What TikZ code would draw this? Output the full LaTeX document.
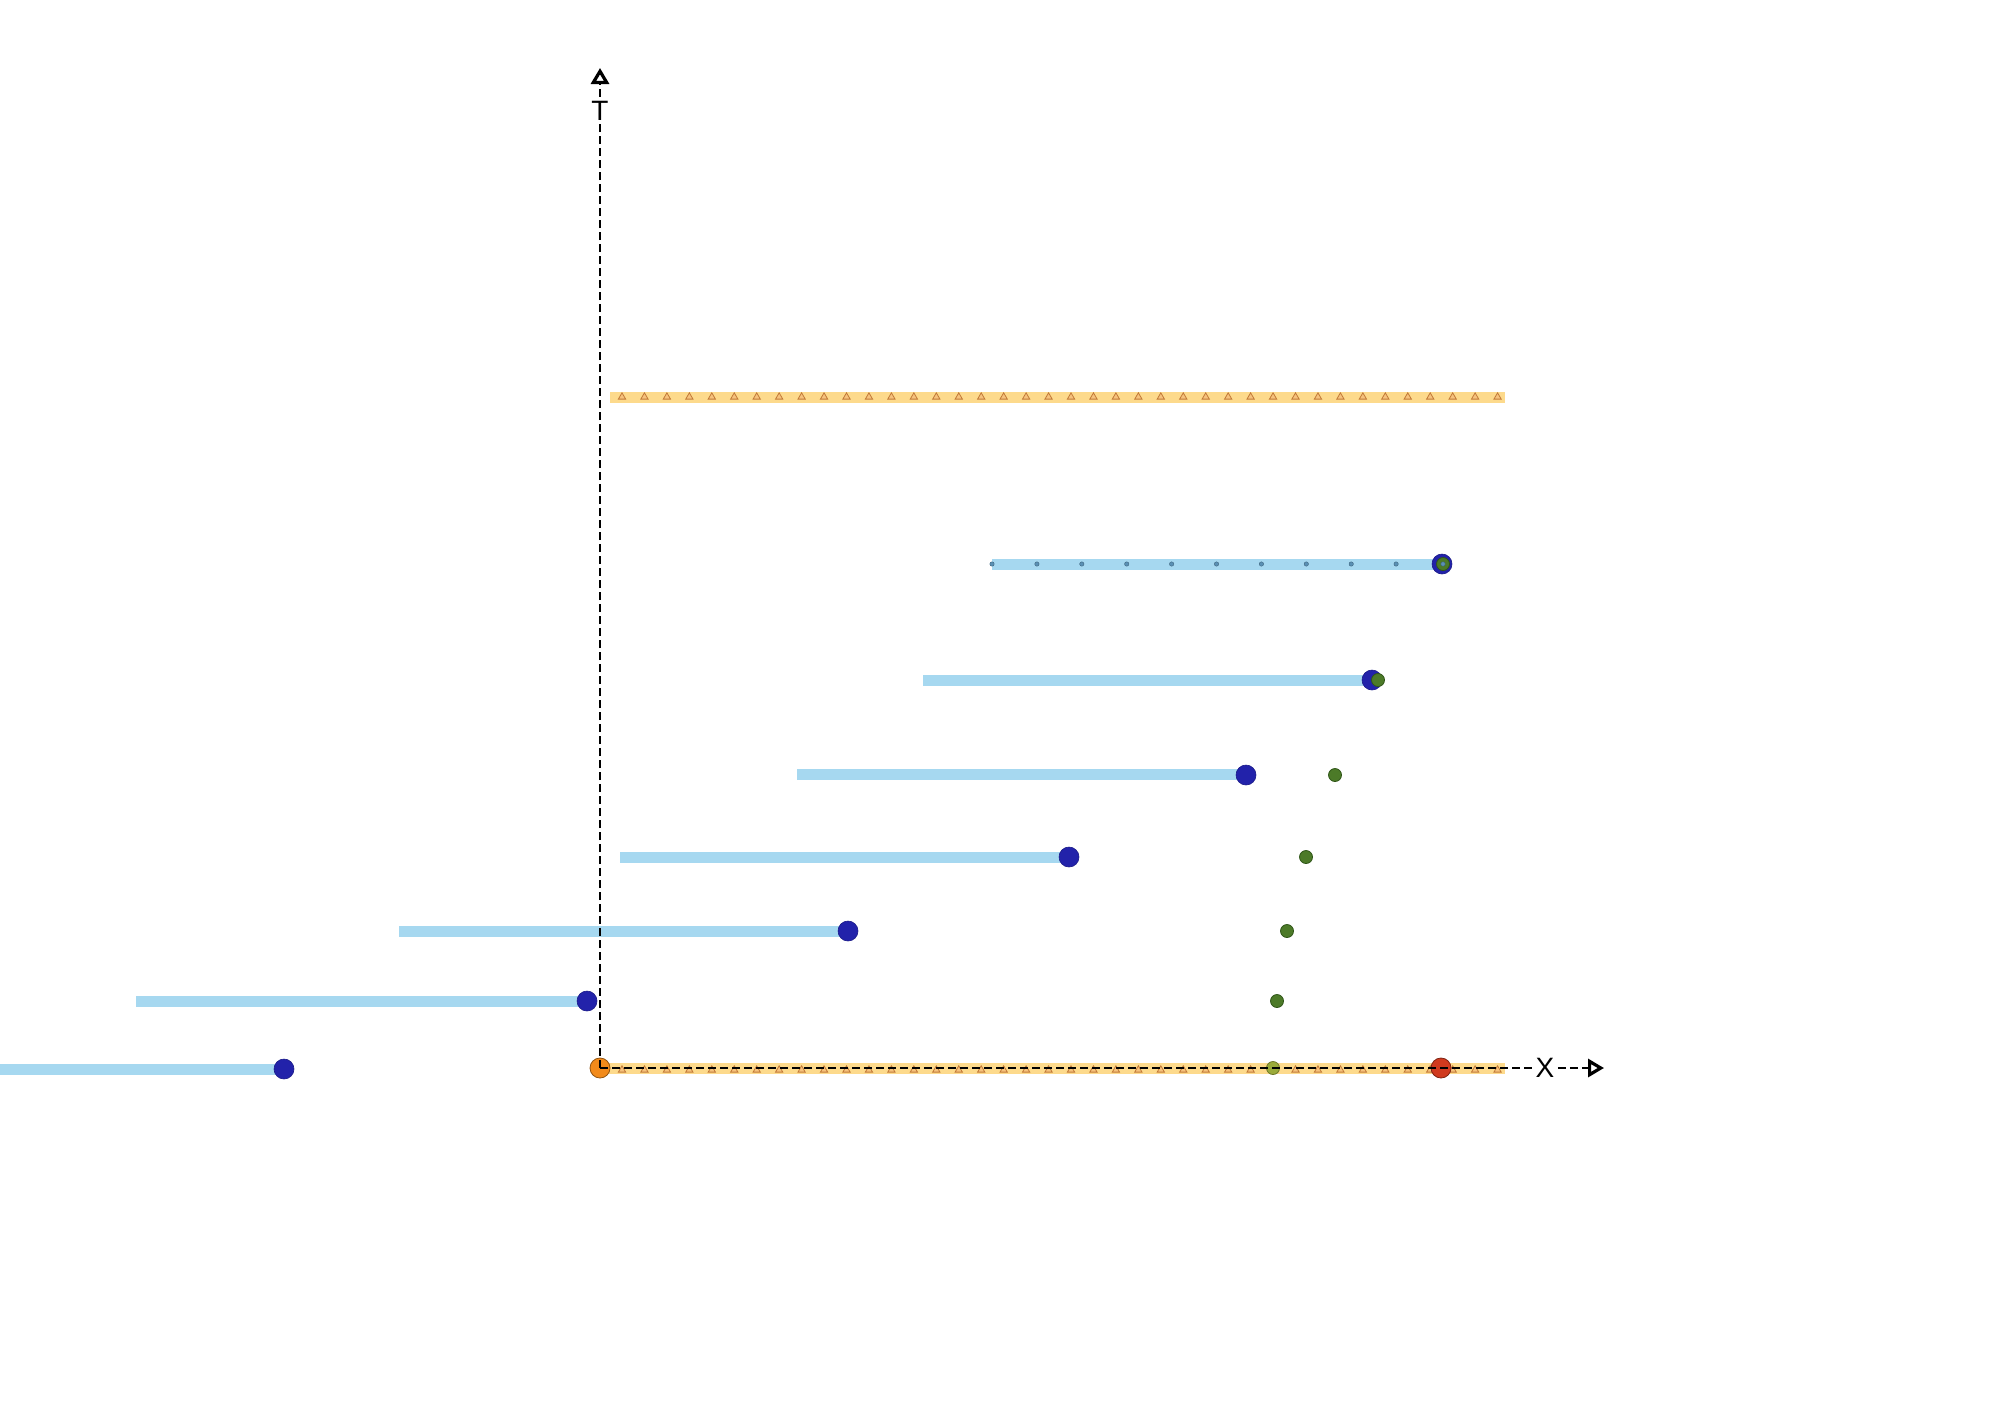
\documentclass[tikz,border=0pt]{standalone}
\usepackage{fontspec}
\setmainfont{Liberation Sans}
\usetikzlibrary{arrows.meta,shapes.geometric}
\definecolor{barblue}{HTML}{A6D8F0}
\definecolor{dotblue}{HTML}{2222AA}
\definecolor{dotgreen}{HTML}{4C7A28}
\definecolor{dotgreenedge}{HTML}{2F5518}
\definecolor{olive}{HTML}{9AAA3A}
\definecolor{bandorange}{HTML}{FDDA8C}
\definecolor{triedge}{HTML}{C27A38}
\definecolor{trifill}{HTML}{F6C27C}
\definecolor{origorange}{HTML}{F28A1A}
\definecolor{reddot}{HTML}{D03A1E}
\definecolor{smalldot}{HTML}{5A90B4}
\begin{document}
\begin{tikzpicture}[x=0.5pt,y=-0.5pt,
  bar/.style={line width=5.5pt,draw=barblue},
  band/.style={line width=5.5pt,draw=bandorange},
  bdot/.style={circle,fill=dotblue,draw=dotblue!80!black,line width=0.3pt,minimum size=10pt,inner sep=0pt},
  gdot/.style={circle,fill=dotgreen,draw=dotgreenedge,line width=0.4pt,minimum size=6.5pt,inner sep=0pt},
  sdot/.style={circle,fill=smalldot,draw=smalldot!70!black,line width=0.2pt,minimum size=2.2pt,inner sep=0pt},
  tri/.style={regular polygon,regular polygon sides=3,draw=triedge,fill=trifill,line width=0.4pt,minimum size=4.2pt,inner sep=0pt},
  axis/.style={line width=1.3pt,dash pattern=on 4pt off 2pt},
  axlabel/.style={font=\fontsize{14}{16}\selectfont,fill=white,inner sep=1.5pt,text height=10pt,text depth=0pt},
  tip/.style={-{Triangle[open,length=8pt,width=9pt,line width=1.6pt]}}]
\useasboundingbox (0,0) rectangle (2000,1414);
% bands
\draw[band] (610,397) -- (1505,397);
\draw[band] (600,1068) -- (1505,1068);
\foreach \i in {0,...,39}{
  \node[tri] (tt\i) at ({622+\i*22.45},397) {};
  \node[tri] (tb\i) at ({622+\i*22.45},1070) {};
}
% bars
\foreach \y/\a/\b in {564/992/1442,680/923/1372,774/797/1246,857/620/1069,931/399/848,1001/136/587,1069/0/284}{
  \draw[bar] (\a,\y) -- (\b,\y);
}
\foreach \i in {0,...,10}{
  \node[sdot] (s\i) at ({992+\i*44.9},564) {};
}
% blue dots
\node[bdot] (b1) at (1442,564) {};
\node[bdot] (b2) at (1372,680) {};
\node[bdot] (b3) at (1246,775) {};
\node[bdot] (b4) at (1069,857) {};
\node[bdot] (b5) at (848,931) {};
\node[bdot] (b6) at (587,1001) {};
\node[bdot] (b7) at (284,1069) {};
% green dots
\node[gdot] (g1) at (1443,564) {};
\node[sdot] (s10b) at (1443,564) {};
\node[gdot] (g2) at (1378,680) {};
\node[gdot] (g3) at (1335,775) {};
\node[gdot] (g4) at (1306,857) {};
\node[gdot] (g5) at (1287,931) {};
\node[gdot] (g6) at (1277,1001) {};
\node[gdot,fill=olive,draw=olive!70!black] (g7) at (1273,1068) {};
% origin and red
\node[circle,fill=origorange,draw=origorange!60!black,line width=0.4pt,minimum size=10pt,inner sep=0pt] (O) at (600,1068) {};
\node[circle,fill=reddot,draw=reddot!60!black,line width=0.4pt,minimum size=10pt,inner sep=0pt] (R) at (1441,1068) {};
% axes
\node[axlabel] (Tl) at (600,110) {T};
\node[axlabel] (Xl) at (1545,1067) {X};
\coordinate (Ttip) at (600,68);
\coordinate (Xtip) at (1604,1068);
\draw[axis] (O.center) -- (Tl);
\draw[axis,tip] (Tl) -- (Ttip);
\draw[axis] (O.center) -- (Xl.west |- O);
\draw[axis,tip] (Xl.east |- O) -- (Xtip);
\end{tikzpicture}
\end{document}
